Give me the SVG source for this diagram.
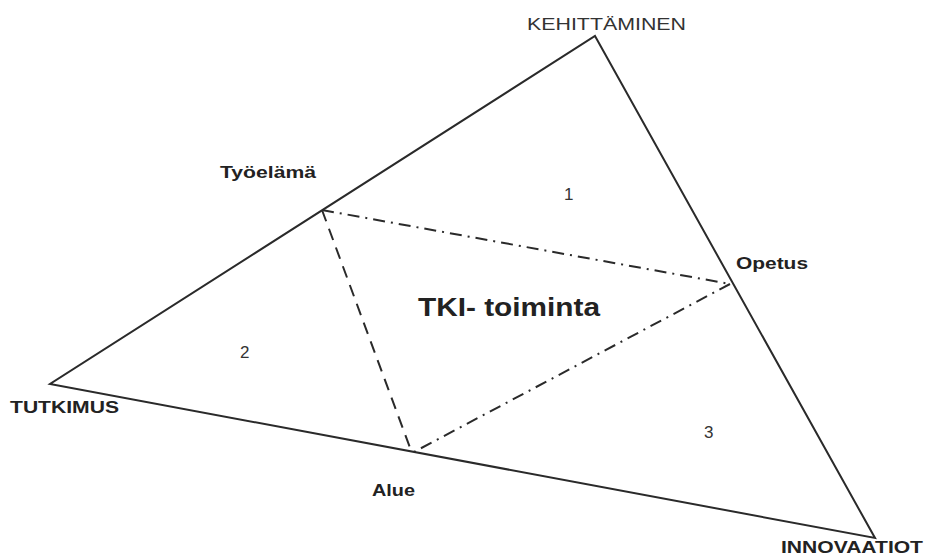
<svg xmlns="http://www.w3.org/2000/svg" width="925" height="556" viewBox="0 0 925 556">
<style>
.edge{fill:none;stroke:#2a2a2a;stroke-width:2;stroke-linejoin:miter}
.dash{fill:none;stroke:#2a2a2a;stroke-width:2;stroke-dasharray:12 8}
.dashdot{fill:none;stroke:#2a2a2a;stroke-width:2;stroke-dasharray:12 6 2 6}
text{font-family:"Liberation Sans",Arial,sans-serif;fill:#222}
.b{font-weight:bold;font-size:17px}
.r{font-size:17px;fill:#333}
</style>
<rect width="925" height="556" fill="#fff"/>
<g id="connectors">
<polygon class="edge" points="595,36 875,538 50,384"/>
<line class="dash" x1="322" y1="210" x2="412" y2="453"/>
<line class="dashdot" x1="322" y1="210" x2="730" y2="284"/>
<line class="dashdot" x1="730" y1="284" x2="412" y2="453"/>
</g>
<g id="kehittaminen"><text class="r" x="527" y="30" textLength="159" lengthAdjust="spacingAndGlyphs">KEHITTÄMINEN</text></g>
<g id="tutkimus"><text class="b" x="10" y="413" textLength="109" lengthAdjust="spacingAndGlyphs">TUTKIMUS</text></g>
<g id="innovaatiot"><text class="b" x="781" y="553" textLength="142" lengthAdjust="spacingAndGlyphs">INNOVAATIOT</text></g>
<g id="tyoelama"><text class="b" x="220" y="178" textLength="96" lengthAdjust="spacingAndGlyphs">Työelämä</text></g>
<g id="opetus"><text class="b" x="736" y="269" textLength="72" lengthAdjust="spacingAndGlyphs">Opetus</text></g>
<g id="alue"><text class="b" x="372" y="496" textLength="43" lengthAdjust="spacingAndGlyphs">Alue</text></g>
<g id="tki"><text x="418" y="316" font-size="25" font-weight="bold" textLength="182" lengthAdjust="spacingAndGlyphs">TKI- toiminta</text></g>
<g id="n1"><text class="r" x="564" y="200">1</text></g>
<g id="n2"><text class="r" x="240" y="358">2</text></g>
<g id="n3"><text class="r" x="704" y="438">3</text></g>
</svg>
